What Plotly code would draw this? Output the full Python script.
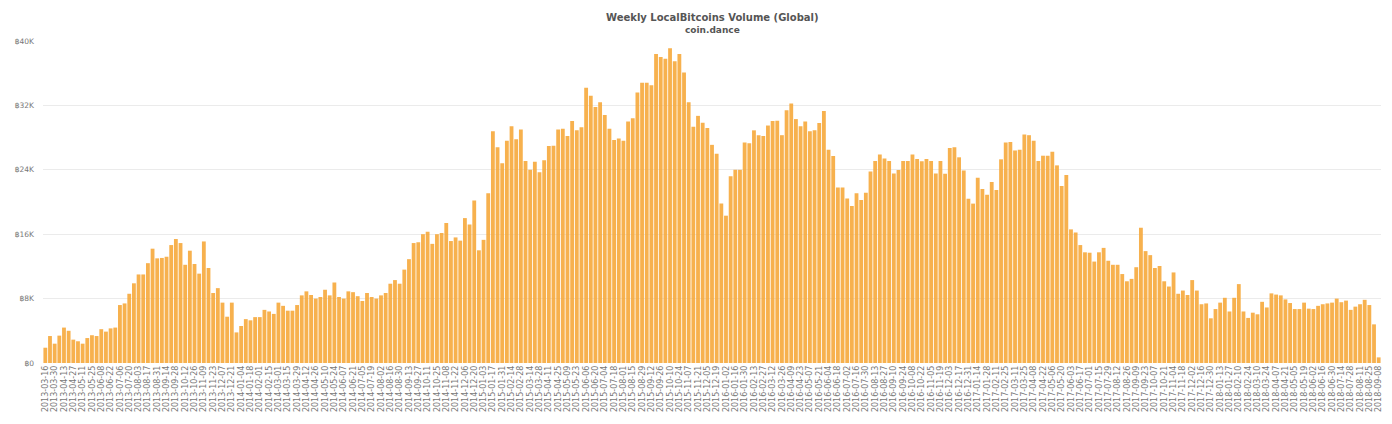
import plotly.graph_objects as go
import pandas as pd

# weekly volume in thousands of BTC
vol_k = [
    1.9, 3.35, 2.4, 3.4, 4.4, 4.0, 2.9, 2.7, 2.4, 3.1, 3.45, 3.35, 4.2, 3.9, 4.3, 4.4,
    7.2, 7.4, 8.6, 9.9, 11.0, 11.0, 12.4, 14.2, 13.0, 13.05, 13.2, 14.65, 15.4, 14.9,
    12.2, 13.95, 12.3, 11.1, 15.1, 11.8,
    8.7, 9.3, 7.5, 5.75, 7.5, 3.8, 4.6, 5.45, 5.3, 5.7, 5.7, 6.6, 6.4, 6.1, 7.5, 7.1,
    6.5, 6.5, 7.2, 8.4, 8.9, 8.45, 8.0, 8.2, 9.1, 8.4, 10.0, 8.2, 8.0, 8.9, 8.8, 8.3,
    7.7, 8.7, 8.2, 8.0,
    8.4, 8.7, 9.85, 10.3, 9.85, 11.6, 12.9, 14.9, 15.0, 16.0, 16.3, 14.8, 16.0, 16.15,
    17.4, 15.15, 15.6, 15.2, 18.0, 17.2, 20.2, 14.0, 15.3, 21.1,
    28.8, 26.8, 24.8, 27.6, 29.4, 27.8, 29.0, 25.1, 24.0,
    25.0, 23.7, 25.2, 26.95, 27.0, 29.0, 29.1, 28.2, 30.05, 28.9, 29.3, 34.2, 33.2,
    31.8, 32.4, 30.8, 29.1, 27.7, 27.9, 27.6, 30.0, 30.4, 33.6, 34.8, 34.8, 34.5, 38.4,
    38.0, 37.8, 39.1, 37.5, 38.4, 36.1, 32.4, 29.35, 30.7, 29.85,
    29.2, 27.1, 26.0, 19.8, 18.3,
    23.2, 24.0, 24.0, 27.4, 27.3, 28.9, 28.3, 28.2, 29.5, 30.05, 30.1, 28.3, 31.4,
    32.25, 30.3, 29.4, 30.0, 28.8, 28.9, 29.8, 31.3, 26.5, 25.7, 21.8, 21.8, 20.45,
    19.5, 21.1, 20.25, 21.15, 23.8,
    25.1, 25.9, 25.4, 25.1, 23.55, 23.97, 25.1, 25.1, 25.9, 25.35, 25.05, 25.35, 25.1,
    23.55, 25.1, 23.5, 26.7, 26.8, 25.55, 23.9, 20.4, 19.8, 23.0, 21.6, 20.9, 22.5,
    21.5, 25.3, 27.4, 27.45, 26.4, 26.5, 28.4, 28.3, 27.6,
    25.1, 25.75, 25.75, 26.25, 24.55, 22.0, 23.35, 16.6, 16.2, 14.65, 13.75, 13.7,
    12.6, 13.75, 14.3, 12.7, 12.2, 12.2, 11.05, 10.15, 10.45, 11.9, 16.8, 13.9, 13.4,
    11.8, 12.05, 10.15, 9.5, 11.25, 8.6, 9.0, 8.45, 10.3,
    9.0, 7.3, 7.4, 5.55, 6.7, 7.5, 8.1, 6.4, 8.1, 9.8, 6.4, 5.6, 6.25, 6.05, 7.6, 6.9,
    8.65, 8.5, 8.4, 7.9, 7.45, 6.7, 6.7, 7.5, 6.75, 6.7, 7.1, 7.3, 7.4, 7.5, 8.0, 7.55,
    7.75, 6.6, 7.0, 7.3, 7.85, 7.2, 4.8, 0.7,
]

weeks = pd.date_range("2013-03-16", periods=len(vol_k), freq="7D").strftime("%Y-%m-%d").tolist()
volume = [v * 1000 for v in vol_k]

y_ticks = [0, 8000, 16000, 24000, 32000, 40000]
y_labels = ["฿0", "฿8K", "฿16K", "฿24K", "฿32K", "฿40K"]

fig = go.Figure(go.Bar(
    x=weeks, y=volume,
    marker=dict(color="#f7a93b", line=dict(width=0)),
    opacity=0.9,
))

# page body has an 8px margin, so the figure is sized 8px smaller
fig.update_layout(
    width=1384, height=416,
    margin=dict(l=35, r=11, t=33, b=61, autoexpand=False),
    paper_bgcolor="white", plot_bgcolor="white",
    bargap=0.18,
    showlegend=False,
    font=dict(family="DejaVu Sans", color="#666666", size=8),
)

fig.add_annotation(
    text="<b>Weekly LocalBitcoins Volume (Global)</b>",
    xref="paper", yref="paper", x=0.5, y=1 + 24 / 322, xanchor="center", yanchor="middle",
    showarrow=False, font=dict(family="DejaVu Sans", size=10, color="#555555"),
)
fig.add_annotation(
    text="<b>coin.dance</b>",
    xref="paper", yref="paper", x=0.5, y=1 + 11 / 322, xanchor="center", yanchor="middle",
    showarrow=False, font=dict(family="DejaVu Sans", size=9, color="#555555"),
)

fig.update_xaxes(
    type="category", automargin=False,
    tickmode="array", tickvals=weeks[::2], ticktext=weeks[::2],
    tickangle=-90, tickfont=dict(size=8, color="#777777"),
    showgrid=False, showline=False, ticks="",
    range=[-0.5, len(weeks) - 0.5],
)
fig.update_yaxes(
    range=[0, 40000], automargin=False,
    tickmode="array", tickvals=y_ticks, ticktext=y_labels,
    tickfont=dict(size=7.5, color="#777777"),
    gridcolor="#ebebeb", gridwidth=1, zeroline=False,
    ticks="", ticklabelstandoff=8,
)

fig.write_html("out.html")
